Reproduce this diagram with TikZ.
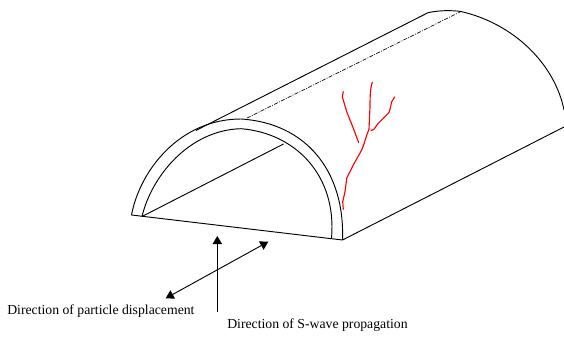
\documentclass[tikz,border=0pt]{standalone}
\usepackage{fontspec}
\setmainfont{Liberation Serif}
\usetikzlibrary{arrows.meta}
\begin{document}
\begin{tikzpicture}[x=0.75pt, y=-0.75pt, every node/.style={font=\fontsize{10.3}{12}\selectfont, inner sep=0pt},
  shell/.style={draw, line width=0.7pt, line join=round},
  crack/.style={draw=red, line width=0.85pt, line cap=round, line join=round},
  dir/.style={line width=0.7pt, -{Triangle[length=6pt, width=7pt]}}]
\useasboundingbox (0,0) rectangle (564,336);
\coordinate (outerL) at (131.5,215);
\coordinate (outerR) at (342.5,240);
\coordinate (innerL) at (142,216.5);
\coordinate (innerR) at (331.5,238);
\coordinate (roofA) at (428,12.7);
\coordinate (roofB) at (461,11.5);
\coordinate (backR) at (564,127);
\draw[shell] (outerL) .. controls (140,170) and (180,119) .. (241,119) .. controls (305,123) and (345,170) .. (outerR);
\draw[shell] (innerL) .. controls (152,175) and (190,130) .. (241,128.7) .. controls (295,133) and (337,175) .. (innerR);
\draw[shell] (outerL) -- (outerR);
\draw[shell] (innerL) -- (283.5,144);
\draw[shell] (196,130.4) -- (roofA);
\draw[shell] (outerR) -- (backR);
\draw[shell] (roofA) .. controls (438,10.5) and (450,10) .. (roofB) .. controls (515,24) and (555,65) .. (564,110);
\draw[shell, densely dashdotted, line width=0.5pt] (247,118) -- (roofB);
% crack
\draw[crack] (343.3,91.7) -- (342.3,96.7) -- (346.7,111.7) -- (353.3,128.3) -- (358.7,142.7);
\draw[crack] (372.3,82.3) .. controls (370.5,87) and (370,95) .. (370,106.7) -- (369,129.3) .. controls (366,136) and (364,145) .. (361.7,150) -- (353.3,165) -- (346.7,178.3) -- (345,191.7) -- (342.7,201.7) -- (343.3,209.3);
\draw[crack] (394.7,97) -- (391.7,101.7) .. controls (390,110) and (389,113) .. (388.3,113.3) -- (378.3,123.3) .. controls (375.5,126) and (375,130) .. (371.7,130.3) -- (371,130.3);
% arrows
\coordinate (shearA) at (165.7,298.3);
\coordinate (shearB) at (268.3,241.7);
\coordinate (waveA) at (217.3,312);
\coordinate (waveB) at (217.3,236);
\draw[dir, {Triangle[length=6pt, width=7pt]}-{Triangle[length=6pt, width=7pt]}] (shearA) -- (shearB);
\draw[dir] (waveA) -- (waveB);
\node[anchor=west] (particle) at (7,311) {Direction of particle displacement};
\node[anchor=west] (swave) at (227,325) {Direction of S-wave propagation};
\end{tikzpicture}
\end{document}
